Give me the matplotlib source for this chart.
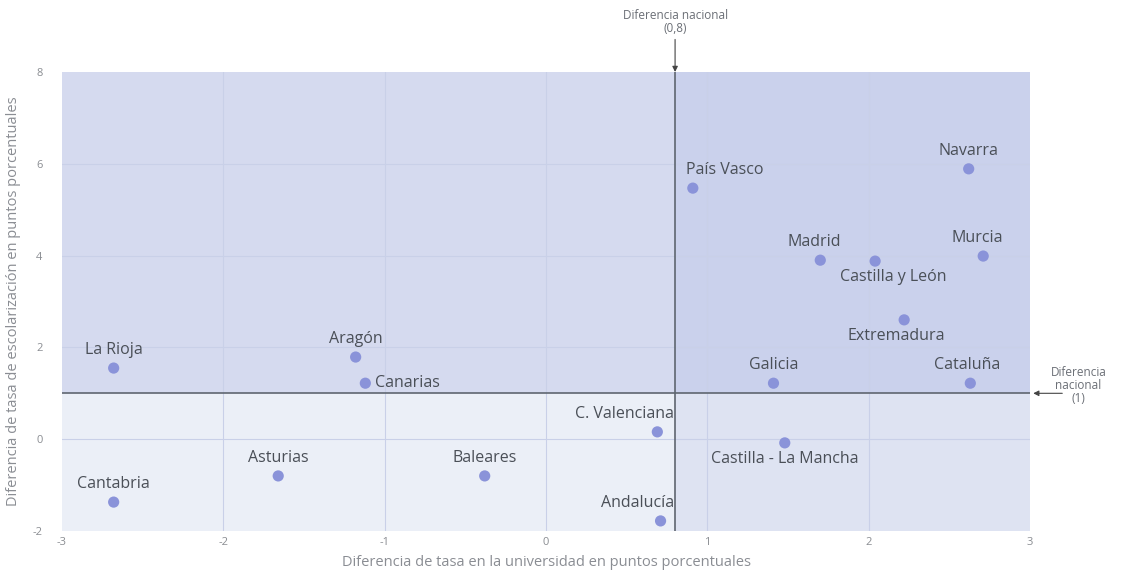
import matplotlib.pyplot as plt

# Regional differences (points) and labels
regiones = ['Navarra', 'País Vasco', 'Madrid', 'Castilla y León', 'Murcia',
            'Extremadura', 'Galicia', 'Cataluña', 'La Rioja', 'Aragón',
            'Canarias', 'C. Valenciana', 'Castilla - La Mancha', 'Asturias',
            'Baleares', 'Cantabria', 'Andalucía']
dif_universidad = [2.62, 0.91, 1.70, 2.04, 2.71, 2.22, 1.41, 2.63, -2.68, -1.18,
                   -1.12, 0.69, 1.48, -1.66, -0.38, -2.68, 0.71]
dif_escolarizacion = [5.89, 5.47, 3.90, 3.88, 3.99, 2.60, 1.22, 1.22, 1.55, 1.79,
                      1.22, 0.16, -0.08, -0.80, -0.80, -1.37, -1.78]

nacional_x = 0.8
nacional_y = 1
x_ticks = [-3, -2, -1, 0, 1, 2, 3]
y_ticks = [-2, 0, 2, 4, 6, 8]

# label offsets in points and alignment for each region
etiquetas = {
    'Navarra': (0, 7, 'center', 'bottom'),
    'País Vasco': (-5, 7, 'left', 'bottom'),
    'Madrid': (-4, 7, 'center', 'bottom'),
    'Castilla y León': (13, -6, 'center', 'top'),
    'Murcia': (-4, 7, 'center', 'bottom'),
    'Extremadura': (-6, -6, 'center', 'top'),
    'Galicia': (0, 7, 'center', 'bottom'),
    'Cataluña': (-2, 7, 'center', 'bottom'),
    'La Rioja': (0, 7, 'center', 'bottom'),
    'Aragón': (0, 7, 'center', 'bottom'),
    'Canarias': (7, 0, 'left', 'center'),
    'C. Valenciana': (12, 7, 'right', 'bottom'),
    'Castilla - La Mancha': (0, -6, 'center', 'top'),
    'Asturias': (0, 7, 'center', 'bottom'),
    'Baleares': (0, 7, 'center', 'bottom'),
    'Cantabria': (0, 7, 'center', 'bottom'),
    'Andalucía': (10, 7, 'right', 'bottom'),
}

plt.rcParams['font.family'] = ['Open Sans', 'DejaVu Sans']
plt.rcParams['axes.unicode_minus'] = False

fig = plt.figure(figsize=(11.3, 5.75), dpi=100)
ax = fig.add_axes([0.0549, 0.0765, 0.8566, 0.7983])
xmin, xmax, ymin, ymax = -3, 3, -2, 8
ax.set_xlim(xmin, xmax)
ax.set_ylim(ymin, ymax)

# quadrant shading
ax.fill_between([xmin, nacional_x], nacional_y, ymax, color='#d5daef', lw=0, zorder=0)
ax.fill_between([nacional_x, xmax], nacional_y, ymax, color='#cad1ec', lw=0, zorder=0)
ax.fill_between([xmin, nacional_x], ymin, nacional_y, color='#ebeff7', lw=0, zorder=0)
ax.fill_between([nacional_x, xmax], ymin, nacional_y, color='#dee3f2', lw=0, zorder=0)

for xv in [-2, -1, 0, 1, 2]:
    ax.axvline(xv, color='#c9d0e8', lw=0.8, zorder=1)
for yv in [0, 2, 4, 6]:
    ax.axhline(yv, color='#c9d0e8', lw=0.8, zorder=1)

ax.axvline(nacional_x, color='#5f6670', lw=1.2, zorder=2)
ax.axhline(nacional_y, color='#5f6670', lw=1.2, zorder=2)

ax.scatter(dif_universidad, dif_escolarizacion, s=65, color='#8a93d9',
           edgecolors='none', zorder=3)

for nombre, x, y in zip(regiones, dif_universidad, dif_escolarizacion):
    dx, dy, ha, va = etiquetas[nombre]
    ax.annotate(nombre, (x, y), xytext=(dx, dy), textcoords='offset points',
                ha=ha, va=va, fontsize=11.5, color='#4a4f57', zorder=4)

ax.set_xticks(x_ticks)
ax.set_yticks(y_ticks)
ax.tick_params(length=0, labelsize=8, labelcolor='#8a8d92')
ax.tick_params(axis='y', pad=14)
ax.tick_params(axis='x', pad=4)
for s in ax.spines.values():
    s.set_visible(False)

ax.set_xlabel('Diferencia de tasa en la universidad en puntos porcentuales',
              fontsize=10.5, color='#8a8d93', labelpad=5)
ax.set_ylabel('Diferencia de tasa de escolarización en puntos porcentuales',
              fontsize=10.5, color='#8a8d93', labelpad=8)

# national reference annotations
ax.annotate('Diferencia nacional\n(0,8)', xy=(nacional_x, ymax),
            xytext=(nacional_x, ymax + 0.8), ha='center', va='bottom',
            fontsize=8.5, color='#6b6f76', linespacing=1.0,
            arrowprops=dict(arrowstyle='-|>', color='#444', lw=0.8,
                            mutation_scale=8, shrinkA=1, shrinkB=0),
            annotation_clip=False)
ax.annotate('', xy=(xmax + 0.02, nacional_y), xytext=(xmax + 0.2, nacional_y),
            arrowprops=dict(arrowstyle='-|>', color='#444', lw=0.8,
                            mutation_scale=8, shrinkA=0, shrinkB=0),
            annotation_clip=False)
ax.text(xmax + 0.3, nacional_y + 0.17, 'Diferencia\nnacional\n(1)',
        ha='center', va='center', fontsize=8.5, color='#6b6f76',
        linespacing=1.0, clip_on=False)

fig.savefig('out.png', dpi=100)
